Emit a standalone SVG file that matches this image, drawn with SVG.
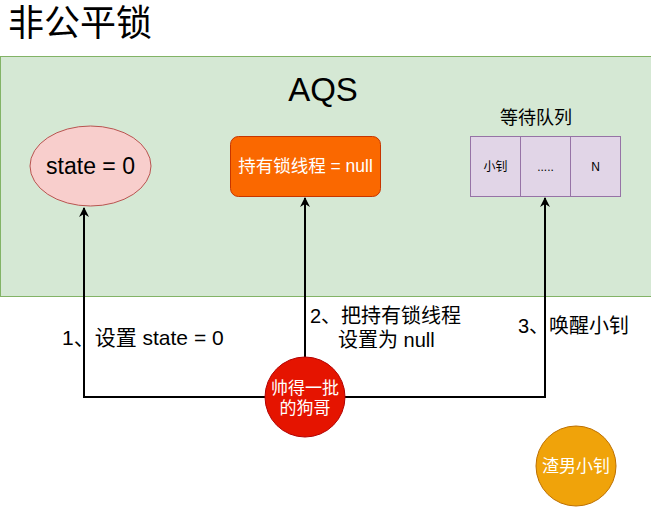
<svg xmlns="http://www.w3.org/2000/svg" width="651" height="507" viewBox="0 0 651 507">
<defs>
<style>
text{font-family:"Liberation Sans","Noto Sans CJK SC",sans-serif;}
.c{text-anchor:middle;}
.edge{fill:none;stroke:#000;stroke-width:2;}
.lbl{font-size:20px;fill:#000;}
.w{fill:#fff;}
</style>
<marker id="arr" viewBox="0 0 10 10" refX="9" refY="5" markerWidth="5" markerHeight="5" orient="auto" markerUnits="strokeWidth">
<path d="M0,0 L10,5 L0,10 L3,5 Z" fill="#000"/>
</marker>
</defs>
<rect width="651" height="507" fill="#fff"/>
<text x="8" y="36" font-size="36" fill="#000">非公平锁</text>
<g id="aqs">
<rect x="0.5" y="56.5" width="652" height="240" fill="#d5e8d4" stroke="#82b366"/>
<text x="323" y="101" font-size="33" class="c">AQS</text>
</g>
<g id="state">
<ellipse cx="90.5" cy="166" rx="60.5" ry="40" fill="#f8cecc" stroke="#b85450"/>
<text x="90.5" y="174" font-size="23" class="c">state = 0</text>
</g>
<g id="owner">
<rect x="230.5" y="136.5" width="150" height="60" rx="8" fill="#fa6800" stroke="#c73500"/>
<text x="305.5" y="172" font-size="17.5" class="c w">持有锁线程 = null</text>
</g>
<g id="queue">
<text x="536" y="124" font-size="18" class="c">等待队列</text>
<rect x="470.5" y="136.5" width="50" height="60" fill="#e1d5e7" stroke="#9673a6"/>
<rect x="520.5" y="136.5" width="50" height="60" fill="#e1d5e7" stroke="#9673a6"/>
<rect x="570.5" y="136.5" width="50" height="60" fill="#e1d5e7" stroke="#9673a6"/>
<text x="495.5" y="171" font-size="12" class="c">小钊</text>
<text x="545.5" y="171" font-size="12" class="c">.....</text>
<text x="595.5" y="171" font-size="12" class="c">N</text>
</g>
<g id="edges">
<path class="edge" d="M265,397 H84 V208" marker-end="url(#arr)"/>
<path class="edge" d="M305,357 V198" marker-end="url(#arr)"/>
<path class="edge" d="M345,397 H545 V198" marker-end="url(#arr)"/>
</g>
<g id="labels">
<text x="62" y="345" font-size="21">1、设置 state = 0</text>
<text x="310" y="323" class="lbl">2、把持有锁线程</text>
<text x="338" y="347" class="lbl">设置为 null</text>
<text x="518" y="333" class="lbl">3、唤醒小钊</text>
</g>
<g id="shuai">
<circle cx="305" cy="397" r="40" fill="#e51400" stroke="#b20000"/>
<text x="305" y="394" font-size="17" class="c w">帅得一批</text>
<text x="305" y="414" font-size="17" class="c w">的狗哥</text>
</g>
<g id="zha">
<circle cx="576" cy="466" r="40" fill="#f0a30a" stroke="#bd7000"/>
<text x="576" y="472" font-size="17" class="c w">渣男小钊</text>
</g>
</svg>
